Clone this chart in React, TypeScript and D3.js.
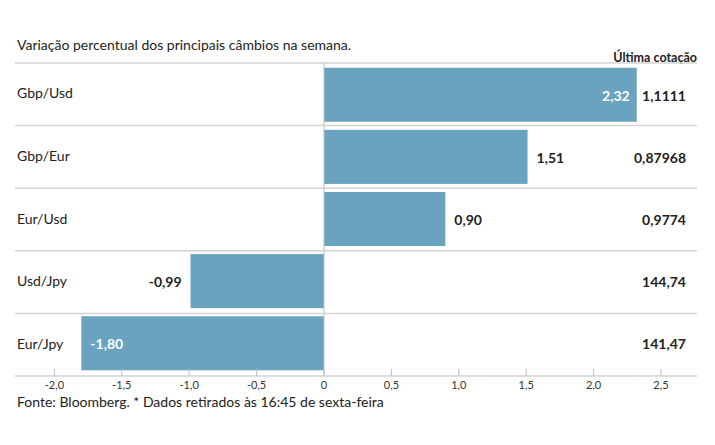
import React from "react";
import * as d3 from "d3";

const categories = ["Gbp/Usd", "Gbp/Eur", "Eur/Usd", "Usd/Jpy", "Eur/Jpy"];
const changes = [2.32, 1.51, 0.9, -0.99, -1.8];
const lastQuotes = ["1,1111", "0,87968", "0,9774", "144,74", "141,47"];
const ticks = [-2.0, -1.5, -1.0, -0.5, 0, 0.5, 1.0, 1.5, 2.0, 2.5];

const W = 715, H = 445;
const FONT = "Lato, 'Open Sans', sans-serif";
const fmt = (v: number) => v.toFixed(2).replace(".", ",");
const fmtTick = (v: number) => (v === 0 ? "0" : v.toFixed(1).replace(".", ","));

export default function App() {
  const x = d3.scaleLinear().domain([-2, 2.5]).range([54.4, 661]);
  const y = d3.scaleBand().domain(categories).range([64, 374]).paddingInner(0.13).paddingOuter(0.06);
  const rowTop = d3.scaleBand().domain(categories).range([63, 376]);
  const color = "#6aa3bf";
  const axisY = 376;
  return (
    <svg width={W} height={H} style={{ position: "absolute", left: 0, top: 0 }} fontFamily={FONT}>
      <text x={17} y={50} fontSize={14} fill="#222">Variação percentual dos principais câmbios na semana.</text>
      <text x={697} y={62} fontSize={12.5} fontWeight="bold" fill="#222" textAnchor="end">Última cotação</text>
      {categories.map((c, i) => {
        const top = rowTop(c)!;
        return <line key={"s" + i} x1={15} x2={697} y1={top} y2={top} stroke="#d4d4d4" strokeWidth={1.5} />;
      })}
      {categories.map((c, i) => {
        const v = changes[i];
        const by = y(c)!;
        const bh = y.bandwidth();
        const x0 = x(Math.min(0, v));
        const x1 = x(Math.max(0, v));
        const inside = Math.abs(v) > 1.6;
        const cy = by + bh / 2 + 6;
        let lx: number, anchor: string, fill: string;
        if (v >= 0) {
          if (inside) { lx = x1 - 7; anchor = "end"; fill = "#fff"; }
          else { lx = x1 + 9; anchor = "start"; fill = "#222"; }
        } else {
          if (inside) { lx = x0 + 9; anchor = "start"; fill = "#fff"; }
          else { lx = x0 - 9; anchor = "end"; fill = "#222"; }
        }
        const rowC = rowTop(c)! + rowTop.bandwidth() / 2;
        return (
          <g key={"b" + i}>
            <text x={17} y={rowC + 4} fontSize={14} fill="#222">{c}</text>
            <rect x={x0} y={by} width={x1 - x0} height={bh} fill={color} />
            <text x={lx} y={cy} fontSize={14} fontWeight="bold" fill={fill} textAnchor={anchor}>{fmt(v)}</text>
            <text x={686} y={cy} fontSize={14} fontWeight="bold" fill="#222" textAnchor="end">{lastQuotes[i]}</text>
          </g>
        );
      })}
      <line x1={x(0)} x2={x(0)} y1={63} y2={axisY} stroke="#bdbdbd" strokeWidth={1} />
      <line x1={15} x2={697} y1={axisY} y2={axisY} stroke="#bdbdbd" strokeWidth={1} />
      {ticks.map((t, i) => (
        <g key={"t" + i}>
          <line x1={x(t)} x2={x(t)} y1={369} y2={axisY} stroke="#bdbdbd" strokeWidth={1} />
          <text x={x(t)} y={389} fontSize={11} fill="#333" textAnchor="middle">{fmtTick(t)}</text>
        </g>
      ))}
      <text x={17} y={407} fontSize={14} fill="#222">Fonte: Bloomberg.  * Dados retirados às 16:45 de sexta-feira</text>
    </svg>
  );
}
